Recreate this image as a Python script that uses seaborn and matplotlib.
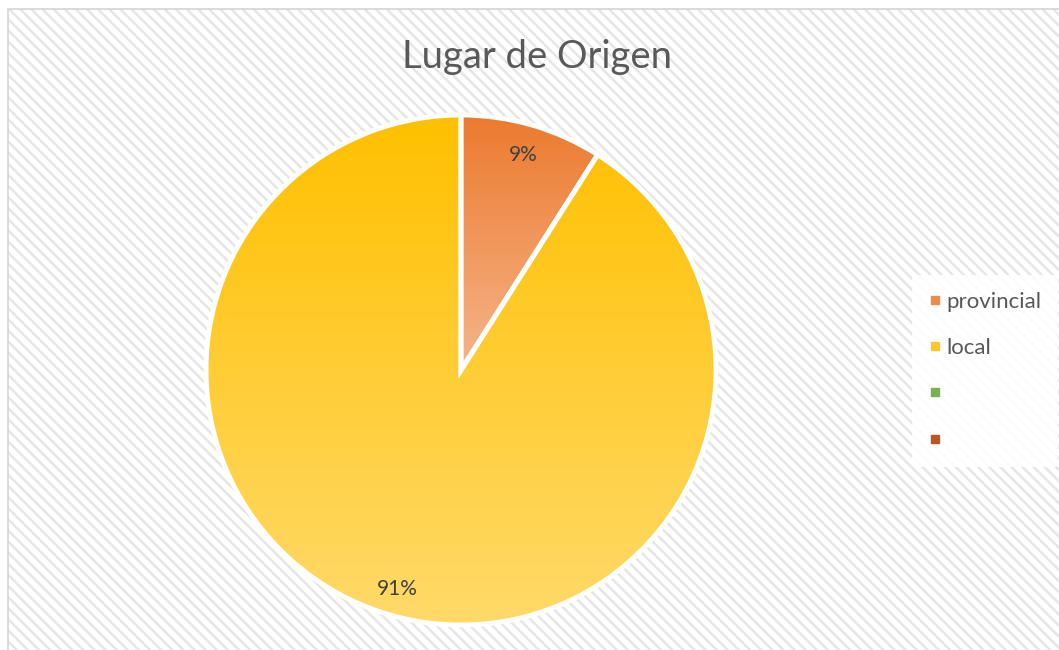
import numpy as np
import matplotlib
matplotlib.use("Agg")
import matplotlib.pyplot as plt
import seaborn as sns
from matplotlib.patches import Rectangle
from matplotlib.lines import Line2D
from matplotlib.colors import LinearSegmentedColormap

# data
labels = ["provincial", "local", "", ""]
values = [9, 91, 0, 0]
pct_labels = ["9%", "91%"]
legend_colors = ["#EF8A48", "#FFC72A", "#7AB354", "#C0561A"]
# gradient (top, bottom) per slice
grad_colors = [("#EC7A2E", "#F5B58A"), ("#FFC000", "#FFDA6A")]

sns.set_theme(style="white")
plt.rcParams["font.family"] = ["Lato", "DejaVu Sans"]
plt.rcParams["hatch.linewidth"] = 1.8

W, H = 1059, 650
fig = plt.figure(figsize=(W / 100, H / 100), dpi=100)
fig.patch.set_facecolor("white")

# striped chart background + border
fig.patches.append(Rectangle((8 / W, 0), 1, 1 - 9 / H, transform=fig.transFigure,
                             facecolor="white", edgecolor="#e6e6e6", hatch="\\\\\\",
                             linewidth=0, zorder=-3))
fig.patches.append(Rectangle((8 / W, -0.01), 1, 1 - 9 / H + 0.01, transform=fig.transFigure,
                             facecolor="none", edgecolor="#d4d4d4", linewidth=1.2, zorder=-2))

# pie axes: centre (461, 370) px, radius 255 px
half = 262
ax = fig.add_axes([(461 - half) / W, (H - 370 - half) / H, 2 * half / W, 2 * half / H])
ax.set_facecolor("none")
lim = half / 255

nz = [v for v in values if v > 0]
wedges, _ = ax.pie(nz, startangle=90, counterclock=False, radius=1,
                   wedgeprops=dict(linewidth=3.5, edgecolor="white"))
ax.set_xlim(-lim, lim)
ax.set_ylim(-lim, lim)
ax.set_aspect("equal")
ax.axis("off")

# vertical gradients clipped to each wedge
for w, (ctop, cbot) in zip(wedges, grad_colors):
    th = np.radians(np.linspace(w.theta1, w.theta2, 200))
    ys = np.concatenate([np.sin(th) * w.r, [0]])
    ymin, ymax = ys.min(), ys.max()
    cmap = LinearSegmentedColormap.from_list("g", [cbot, ctop])
    grad = np.linspace(0, 1, 256).reshape(-1, 1)
    im = ax.imshow(grad, cmap=cmap, origin="lower", aspect="auto",
                   extent=(-1, 1, ymin, ymax), zorder=1)
    im.set_clip_path(w)
    w.set_facecolor("none")
    w.set_zorder(3)

ax.set_xlim(-lim, lim)
ax.set_ylim(-lim, lim)

# percentage labels
cum = 0
for v, txt in zip(nz, pct_labels):
    mid = np.radians(90 - (cum + v / 2) / sum(nz) * 360)
    d = 0.88 if v < 50 else 0.895
    ax.text(d * np.cos(mid), d * np.sin(mid), txt, ha="center", va="center",
            fontsize=15, color="#404040", zorder=5)
    cum += v

fig.text(537 / W, 1 - 57 / H, "Lugar de Origen", ha="center", va="center",
         fontsize=27.5, color="#595959")

# legend
handles = [Line2D([0], [0], marker="s", linestyle="none", markersize=6,
                  markerfacecolor=c, markeredgecolor=c) for c in legend_colors]
leg = fig.legend(handles, labels, loc="center left",
                 bbox_to_anchor=(912 / W, 1 - 371 / H), frameon=True,
                 fontsize=16, labelspacing=1.18, handlelength=0.6,
                 handletextpad=0.2, borderpad=0.75, borderaxespad=0)
leg.get_frame().set_facecolor("white")
leg.get_frame().set_edgecolor("none")
leg.get_frame().set_alpha(0.9)
for t in leg.get_texts():
    t.set_color("#595959")

fig.savefig("out.png", dpi=100)
